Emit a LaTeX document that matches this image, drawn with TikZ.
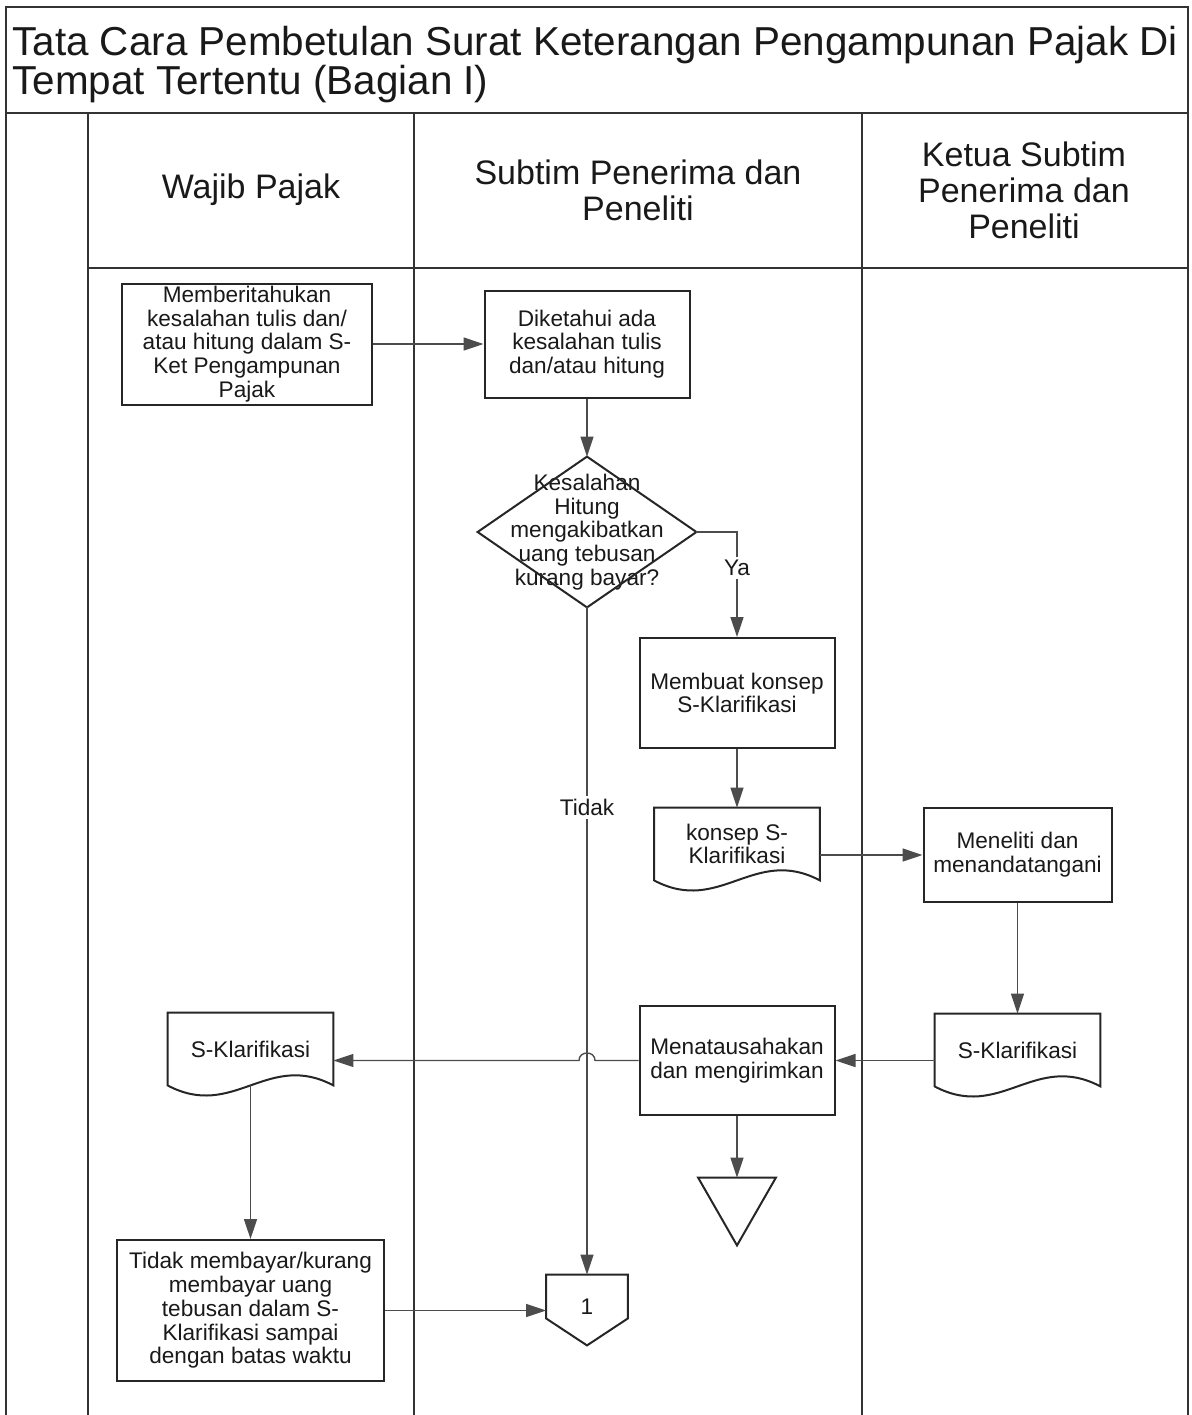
\documentclass[tikz,border=0pt]{standalone}
\usepackage{fontspec}
\setmainfont{Liberation Sans}
\usetikzlibrary{arrows.meta,calc}
\newcommand\ndfont{\fontsize{11.3}{11.9}\selectfont}
\newcommand\hdfont{\fontsize{17}{18}\selectfont}
\newcommand\ttlfont{\fontsize{20.2}{19.3}\selectfont}
\newcommand\docoutline[1]{\draw[outline] (#1.south east) -- (#1.north east) -- (#1.north west) -- (#1.south west) .. controls +(66,35) and +(-66,-35) .. (#1.south east) -- cycle;}
\begin{document}
\begin{tikzpicture}[x=0.5pt,y=-0.5pt,
  frame/.style={draw=black!80, line width=1.3pt},
  box/.style={draw=black!85, line width=1pt, rectangle, align=center, inner sep=0pt, font=\ndfont, text=black!90},
  plain/.style={draw=none, rectangle, align=center, inner sep=0pt, font=\ndfont, text=black!90},
  outline/.style={draw=black!85, line width=1pt, line join=miter},
  arr/.style={draw=black!70, line width=0.7pt, -{Triangle[length=10pt,width=6.5pt]}},
  lbl/.style={fill=white, inner sep=1.5pt, font=\ndfont, text=black!90},
  hdr/.style={align=center, font=\hdfont, text=black!90}
]
\useasboundingbox (0,0) rectangle (1191,1415);
% frame
\draw[frame] (6,1415) -- (6,7) -- (1188,7) -- (1188,1415);
\draw[frame] (6,113) -- (1188,113);
\draw[frame] (88,268) -- (1188,268);
\draw[frame] (88,113) -- (88,1415);
\draw[frame] (414,113) -- (414,1415);
\draw[frame] (862,113) -- (862,1415);
% title and headers
\node[anchor=north west, align=left, font=\ttlfont, inner sep=0pt, text=black!90] (title) at (12,26)
  {Tata Cara Pembetulan Surat Keterangan Pengampunan Pajak Di\\Tempat Tertentu (Bagian I)};
\node[hdr] (h1) at (251,190) {Wajib Pajak};
\node[hdr] (h2) at (638,190) {Subtim Penerima dan\\Peneliti};
\node[hdr] (h3) at (1024,190) {Ketua Subtim\\Penerima dan\\Peneliti};
% nodes
\node[box, minimum width=125pt, minimum height=60.5pt] (n1) at (247,344)
  {Memberitahukan\\kesalahan tulis dan/\\atau hitung dalam S-\\Ket Pengampunan\\Pajak};
\node[box, minimum width=102.5pt, minimum height=53.5pt] (n2) at (587,344)
  {Diketahui ada\\kesalahan tulis\\dan/atau hitung};
\node[plain, minimum width=109pt, minimum height=75pt] (dia) at (587,532)
  {Kesalahan\\Hitung\\mengakibatkan\\uang tebusan\\kurang bayar?};
\draw[outline] (dia.north) -- (dia.east) -- (dia.south) -- (dia.west) -- cycle;
\node[box, minimum width=97.5pt, minimum height=55pt] (n3) at (737,693)
  {Membuat konsep\\S-Klarifikasi};
\node[plain, minimum width=82.5pt, minimum height=36pt] (doc1) at (737,844)
  {konsep S-\\Klarifikasi};
\docoutline{doc1}
\node[box, minimum width=94pt, minimum height=47pt] (n4) at (1017.5,855)
  {Meneliti dan\\menandatangani};
\node[plain, minimum width=82.5pt, minimum height=36pt] (doc2) at (1017.5,1050)
  {S-Klarifikasi};
\docoutline{doc2}
\node[box, minimum width=97.5pt, minimum height=54.5pt] (n5) at (737,1060.5)
  {Menatausahakan\\dan mengirimkan};
\node[plain, minimum width=82.5pt, minimum height=36pt] (doc3) at (250.5,1049)
  {S-Klarifikasi};
\docoutline{doc3}
\node[box, minimum width=133.5pt, minimum height=70.5pt] (n6) at (250.5,1310.5)
  {Tidak membayar/kurang\\membayar uang\\tebusan dalam S-\\Klarifikasi sampai\\dengan batas waktu};
\node[plain, minimum width=40.5pt, minimum height=35pt] (off) at (587,1310)
  {\raisebox{3.5pt}{1}};
\draw[outline] (off.north west) -- (off.north east) -- ($(off.south east)+(0,-27)$) -- (off.south) -- ($(off.south west)+(0,-27)$) -- cycle;
\node[plain, minimum width=38.5pt, minimum height=33.5pt] (tri) at (737,1211.5) {};
\draw[outline] (tri.north west) -- (tri.north east) -- (tri.south) -- cycle;
% connectors
\draw[arr] (n1.east) -- (n1.east -| n2.west);
\draw[arr] (n2.south) -- (dia.north);
\draw[arr] (dia.east) -| node[lbl, pos=0.67] {Ya} (n3.north);
\draw[arr] (dia.south) -- node[lbl, pos=0.3] {Tidak} (off.north);
\draw[arr] (n3.south) -- (doc1.north);
\draw[arr] (doc1.east |- n4.west) -- (n4.west);
\draw[arr] (n4.south) -- (doc2.north);
\draw[arr] (doc2.west |- n5.east) -- (n5.east);
\draw[arr] (n5.west) -- ([xshift=4pt]dia.south |- n5.west) .. controls +(0,-10) and +(0,-10) .. ([xshift=-4pt]dia.south |- n5.west) -- (doc3.east |- n5.west);
\draw[arr] (doc3.south) -- (n6.north);
\draw[arr] (n6.east) -- (n6.east -| off.west);
\draw[arr] (n5.south) -- (tri.north);
\end{tikzpicture}
\end{document}
